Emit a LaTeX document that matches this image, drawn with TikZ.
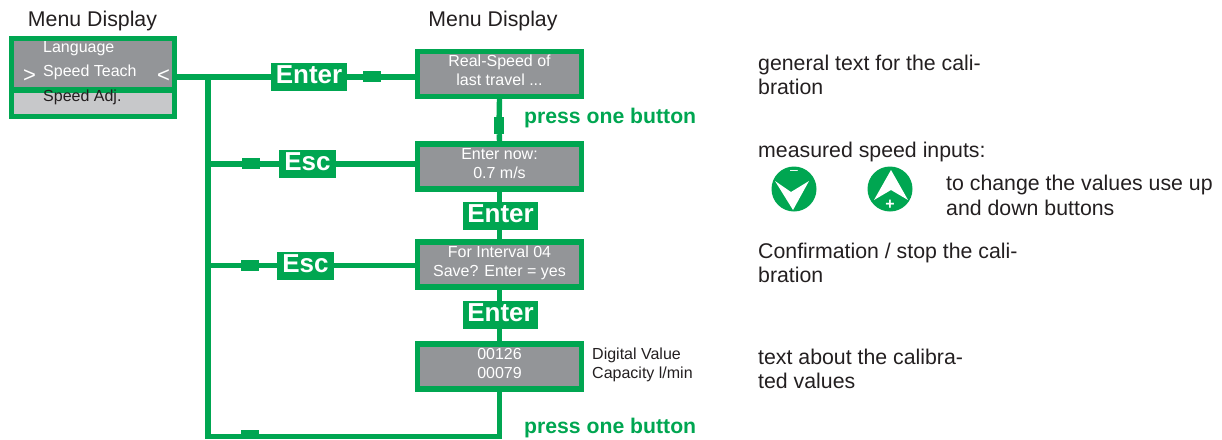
\documentclass[tikz,border=0pt]{standalone}
\usepackage{fontspec}
\setmainfont{Liberation Sans}
\definecolor{menugreen}{HTML}{00A651}
\definecolor{menugrey}{HTML}{939598}
\definecolor{menulight}{HTML}{C7C8CA}
\definecolor{menutext}{HTML}{231F20}
\tikzset{
  display/.style={draw=menugreen,line width=5.4pt,fill=menugrey,text=white,inner sep=0pt,
    minimum width=164pt,minimum height=45pt,align=center,text depth=7pt,font=\fontsize{16}{19}\selectfont},
  keylabel/.style={fill=menugreen,text=white,inner sep=0pt,minimum height=28pt,text depth=4pt,
    font=\fontsize{26}{28}\selectfont\bfseries},
  tab/.style={fill=menugreen,inner sep=0pt,minimum width=18pt,minimum height=11pt},
  menuline/.style={inner sep=0pt,anchor=west,font=\fontsize{16}{19}\selectfont},
  note/.style={inner sep=0pt,anchor=west,align=left,text=menutext,font=\fontsize{21.3}{24.5}\selectfont},
  small/.style={inner sep=0pt,anchor=west,align=left,text=menutext,font=\fontsize{16}{18.5}\selectfont},
  press/.style={inner sep=0pt,anchor=west,text=menugreen,font=\fontsize{21.2}{24}\selectfont\bfseries},
  button/.style={circle,fill=menugreen,inner sep=0pt,minimum size=45pt},
  wire/.style={draw=menugreen,line width=5.4pt}
}
\begin{document}
\begin{tikzpicture}[x=1pt,y=-1pt]
  \useasboundingbox (0,0) rectangle (1222,439);
  % Displays
  \node[display,minimum width=163pt,minimum height=51.5pt] (menutop) at (93,64.25) {};
  \node[display,fill=menulight,minimum width=163pt,minimum height=26.5pt] (menubot) at (93,103.25) {};
  \node[display] (real) at (499.5,74) {Real-Speed of\\last travel ...};
  \node[display] (now) at (499.5,166.5) {Enter now:\\0.7 m/s};
  \node[display] (save) at (499.5,264.5) {For Interval 04\\Save? Enter = yes};
  \node[display] (values) at (499.5,366.5) {00126\\00079};
  % Menu lines
  \node[menuline,text=white] (language) at (43,48.5) {Language};
  \node[menuline,text=white] (teach) at (43,72) {Speed Teach};
  \node[menuline,text=menutext] (adjust) at (43,97) {Speed Adj.};
  \node[text=white,inner sep=0pt,font=\fontsize{22}{24}\selectfont] (markl) at (29.5,76.5) {>};
  \node[text=white,inner sep=0pt,font=\fontsize{22}{24}\selectfont] (markr) at (163.5,76.5) {<};
  % Keys
  \node[keylabel,minimum width=76pt] (enterA) at (309,77) {Enter};
  \node[keylabel,minimum width=57pt] (escA) at (307.5,164) {Esc};
  \node[keylabel,minimum width=57pt] (escB) at (305.5,265.5) {Esc};
  \node[keylabel,minimum width=75pt] (enterB) at (500.5,216) {Enter};
  \node[keylabel,minimum width=75pt] (enterC) at (500.5,315) {Enter};
  \node[tab] (tabA) at (372,76.5) {};
  \node[tab] (tabB) at (251,163.5) {};
  \node[tab] (tabC) at (250,265.5) {};
  \node[tab,minimum width=10pt,minimum height=17pt] (tabD) at (499,125.5) {};
  \node[tab,minimum height=9pt] (tabE) at (250,434.5) {};
  % Bus
  \coordinate (top) at (208,77);
  \coordinate (corner) at (208,436.5);
  % Drawing
  \draw[wire] (menutop.east |- top) -- (enterA) -- (real.west |- enterA);
  \draw[wire] (top) -- (corner) -- (corner -| values.south) -- (values.south);
  \draw[wire] (top |- escA) -- (escA) -- (escA -| now.west);
  \draw[wire] (top |- escB) -- (escB) -- (escB -| save.west);
  \draw[wire] (real.south) -- (tabD) -- (now.north);
  \draw[wire] (now.south) -- (now.south |- enterB.north);
  \draw[wire] (save.north) -- (now.south |- enterB.south);
  \draw[wire] (save.south) -- (save.south |- enterC.north);
  \draw[wire] (values.north) -- (values.north |- enterC.south);
  % Buttons
  \node[button] (down) at (794,189) {};
  \node[button] (up) at (890,189) {};
  \fill[white] ([shift={(-19,-8)}]down.center) -- ([shift={(-3,3)}]down.center)
    -- ([shift={(15,-8)}]down.center) -- ([shift={(-1,21)}]down.center) -- cycle;
  \fill[white] ([shift={(1,-19)}]up.center) -- ([shift={(18,11)}]up.center)
    -- ([shift={(1,1)}]up.center) -- ([shift={(-16,11)}]up.center) -- cycle;
  \node[text=white,inner sep=0pt,font=\fontsize{14}{14}\selectfont] (minus) at (794,172) {--};
  \node[text=white,inner sep=0pt,font=\fontsize{16}{16}\selectfont\bfseries] (plus) at (890,205) {+};
  % Labels
  \node[inner sep=0pt,text=menutext,font=\fontsize{21.3}{24}\selectfont] (titleA) at (92.5,21) {Menu Display};
  \node[inner sep=0pt,text=menutext,font=\fontsize{21.3}{24}\selectfont] (titleB) at (493,21) {Menu Display};
  \node[press] (pressA) at (524,118) {press one button};
  \node[press] (pressB) at (524,428) {press one button};
  \node[small] (digital) at (592,365) {Digital Value\\Capacity l/min};
  \node[note] (general) at (758,75) {general text for the cali-\\bration};
  \node[note] (inputs) at (758,151.5) {measured speed inputs:};
  \node[note] (change) at (946,195.5) {to change the values use up\\and down buttons};
  \node[note] (confirm) at (758,263) {Confirmation / stop the cali-\\bration};
  \node[note] (about) at (758,369) {text about the calibra-\\ted values};
\end{tikzpicture}
\end{document}
